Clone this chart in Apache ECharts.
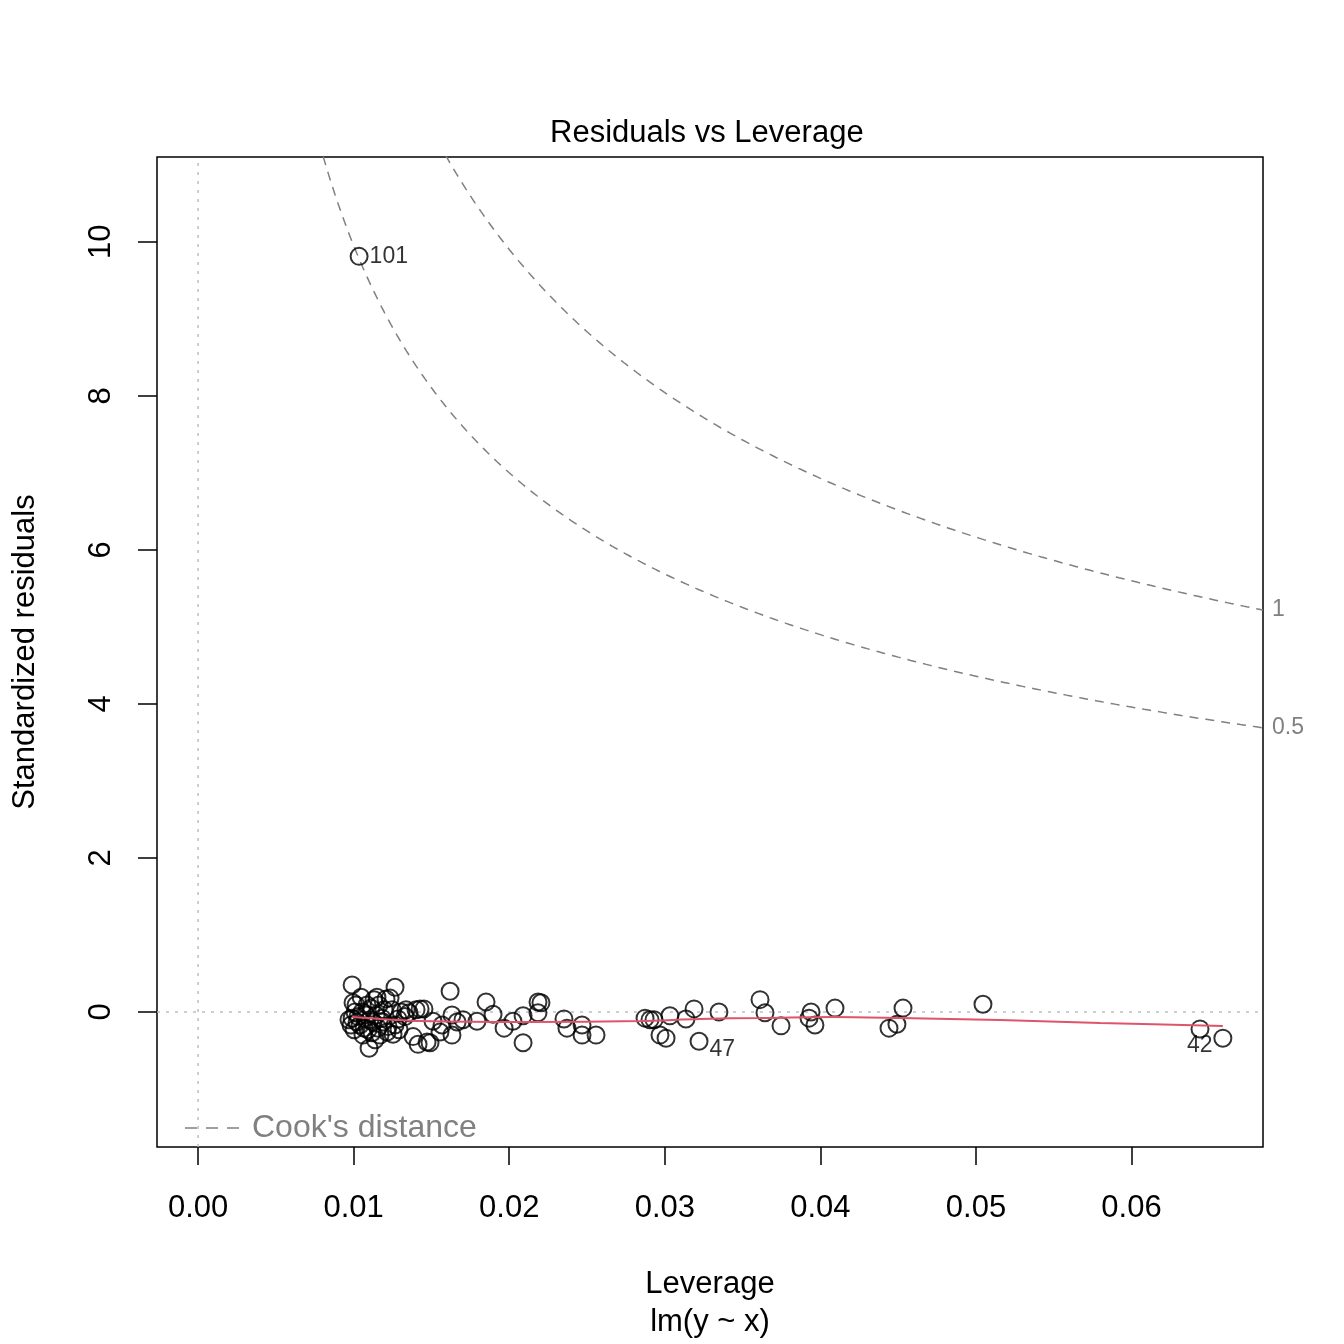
<!DOCTYPE html>
<html>
<head>
<meta charset="utf-8">
<script src="https://cdn.jsdelivr.net/npm/echarts@6/dist/echarts.min.js"></script>
<style>
html,body{margin:0;padding:0;background:#fff;}
#chart{width:1344px;height:1344px;}
</style>
</head>
<body>
<div id="chart"></div>
<script>
// ---- data ----
const leverage = [
  0.00990,0.00996,0.00990,0.00983,0.01003,0.01022,0.01048,0.01054,0.01067,0.01086,
  0.01099,0.01105,0.01118,0.01131,0.01144,0.01150,0.01170,0.01189,0.01208,0.01221,
  0.01234,0.01247,0.01253,0.01266,0.01266,0.01285,0.01305,0.01330,0.01356,0.01382,
  0.01401,0.01414,0.01427,0.01452,0.01472,0.01491,0.01510,0.01555,0.01568,0.01620,
  0.01632,0.01632,0.01665,0.01703,0.01793,0.01851,0.01896,0.01967,0.02024,0.02089,
  0.02089,0.02185,0.02204,0.02185,0.02352,0.02371,0.02468,0.02468,0.02558,0.02873,
  0.02905,0.02931,0.02969,0.03008,0.03033,0.03136,0.03188,0.03220,0.03348,0.03612,
  0.03644,0.03747,0.03940,0.03927,0.03965,0.04094,0.04441,0.04492,0.04531,0.05045,
  0.06440,0.06587,0.01035,
  0.00970,0.01015,0.01041,0.01080,0.01112,0.01157,0.01195,0.01215,0.01163,0.01060,
  0.01138,0.01009,0.01093,0.01183,0.01292,0.01337,0.01028,0.01125
];
const stdResid = [
  0.35,0.12,-0.08,-0.17,-0.23,-0.13,0.19,0.00,-0.21,0.09,
  -0.47,-0.10,-0.27,0.16,-0.04,0.19,-0.30,-0.13,0.17,-0.19,
  0.18,0.03,-0.29,0.32,-0.17,-0.09,0.00,-0.06,-0.01,-0.32,
  0.03,-0.42,0.04,0.04,-0.39,-0.40,-0.12,-0.26,-0.17,0.27,
  -0.04,-0.30,-0.13,-0.10,-0.12,0.13,-0.03,-0.21,-0.12,-0.05,
  -0.40,0.13,0.12,-0.01,-0.09,-0.21,-0.17,-0.30,-0.30,-0.08,
  -0.10,-0.10,-0.30,-0.34,-0.05,-0.09,0.04,-0.38,0.00,0.16,
  -0.01,-0.18,0.00,-0.08,-0.17,0.05,-0.21,-0.16,0.05,0.10,
  -0.22,-0.34,9.81,
  -0.10,0.09,-0.17,-0.04,0.05,-0.21,0.03,-0.26,0.09,-0.30,
  -0.36,0.00,-0.23,-0.08,-0.23,0.03,-0.06,-0.13
];
// labelled observations: index into the arrays above, and their text
const labelIndex = [82, 67, 80];
const labelText  = ['101', '47', '42'];

// smoother (red line)
const smoothX = [0.00990,0.01170,0.01427,0.02131,0.02841,0.03226,0.03612,0.04081,0.04512,0.05154,0.05797,0.06587];
const smoothY = [-0.065,-0.09,-0.117,-0.13,-0.117,-0.09,-0.078,-0.065,-0.078,-0.104,-0.143,-0.182];

// axis ticks
const xTicks = [0, 0.01, 0.02, 0.03, 0.04, 0.05, 0.06];
const yTicks = [0, 2, 4, 6, 8, 10];
const xRange = [-0.00264, 0.06845];
const yRange = [-1.753, 11.10];

// Cook's distance contour levels (p = 2 parameters)
const cookLevels = [0.5, 1];
const nParams = 2;
const cookGrid = [];
for (let h = 0.0070; h <= xRange[1] + 1e-9; h += 0.0002) cookGrid.push(h);
cookGrid.push(xRange[1]);

// ---- chart ----
const FONT = "'Liberation Sans', Arial, Helvetica, sans-serif";
const chart = echarts.init(document.getElementById('chart'), null, {renderer: 'canvas'});

const points = leverage.map((x, i) => [x, stdResid[i]]);
const labelOffsets = {'101': {position: 'right', offset: [-4, 0]}, '47': {position: 'right', offset: [-4, 8]}, '42': {position: 'left', offset: [27, 17]}};
const pointData = points.map((p, i) => {
  const k = labelIndex.indexOf(i);
  if (k < 0) return {value: p};
  const t = labelText[k];
  return {value: p, label: {show: true, formatter: t, position: labelOffsets[t].position, offset: labelOffsets[t].offset,
    fontSize: 23, color: '#000', fontFamily: FONT}};
});

const cookSeries = cookLevels.map(c => ({
  name: "Cook's distance",
  type: 'line',
  data: cookGrid.map(h => [h, Math.sqrt(c * nParams * (1 - h) / h)]),
  showSymbol: false,
  symbol: 'none',
  clip: true,
  silent: true,
  lineStyle: {color: '#808080', width: 1.5, type: [9, 7]},
  endLabel: {show: true, formatter: String(c), color: '#808080', fontSize: 23, fontFamily: FONT, distance: 9},
  z: 2
}));

const option = {
  animation: false,
  backgroundColor: '#ffffff',
  textStyle: {fontFamily: FONT},
  title: {
    text: 'Residuals vs Leverage',
    left: 550, top: 118, padding: 0,
    textStyle: {fontSize: 31, fontWeight: 'normal', color: '#000', fontFamily: FONT}
  },
  graphic: [
    {type: 'line', shape: {x1: 185, y1: 1128, x2: 241, y2: 1128}, style: {stroke: '#808080', lineWidth: 1.5, lineDash: [12, 9]}, z: 10},
    {type: 'text', x: 252, y: 1128, style: {text: "Cook's distance", fill: '#808080', fontSize: 32, fontFamily: FONT, textVerticalAlign: 'middle', verticalAlign: 'middle'}, z: 10}
  ],
  grid: {left: 157, right: 81, top: 157, bottom: 197, show: true, borderColor: '#000', borderWidth: 1.5, outerBoundsMode: 'none', containLabel: false},
  xAxis: {
    type: 'value', min: xRange[0], max: xRange[1],
    name: 'Leverage\nlm(y ~ x)', nameLocation: 'middle', nameGap: 118,
    nameTextStyle: {fontSize: 31, color: '#000', fontFamily: FONT, lineHeight: 38},
    axisLine: {show: false, onZero: false},
    splitLine: {show: false},
    axisTick: {show: true, customValues: xTicks, length: 18, lineStyle: {color: '#000', width: 1.5}},
    axisLabel: {customValues: xTicks, formatter: v => v.toFixed(2), fontSize: 31, color: '#000', fontFamily: FONT, margin: 46}
  },
  yAxis: {
    type: 'value', min: yRange[0], max: yRange[1],
    name: 'Standardized residuals', nameLocation: 'middle', nameGap: 116, nameRotate: 90,
    nameTextStyle: {fontSize: 31, color: '#000', fontFamily: FONT},
    axisLine: {show: false, onZero: false},
    splitLine: {show: false},
    axisTick: {show: true, customValues: yTicks, length: 19, lineStyle: {color: '#000', width: 1.5}},
    axisLabel: {customValues: yTicks, rotate: 90, fontSize: 31, color: '#000', fontFamily: FONT, margin: 40}
  },
  series: [
    {
      type: 'line', data: [[xRange[0], 0], [xRange[1], 0]], symbol: 'none', silent: true,
      lineStyle: {color: '#bebebe', width: 1.5, type: [3, 6]}, z: 1
    },
    {
      type: 'line', data: [[0, yRange[0]], [0, yRange[1]]], symbol: 'none', silent: true,
      lineStyle: {color: '#bebebe', width: 1.5, type: [3, 6]}, z: 1
    },
    ...cookSeries,
    {
      type: 'scatter', data: pointData, symbol: 'circle', symbolSize: 17,
      itemStyle: {color: 'rgba(0,0,0,0)', borderColor: '#000', borderWidth: 2},
      z: 4
    },
    {
      type: 'line', data: smoothX.map((x, i) => [x, smoothY[i]]), symbol: 'none', smooth: 0.3, silent: true,
      lineStyle: {color: '#DF536B', width: 2}, z: 5
    }
  ]
};
chart.setOption(option);
</script>
</body>
</html>
